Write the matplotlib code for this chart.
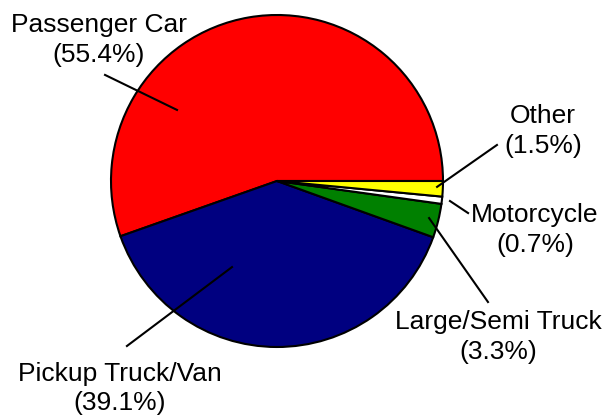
import matplotlib.pyplot as plt
import numpy as np

plt.rcParams['font.family'] = ['Liberation Sans', 'DejaVu Sans']

# vehicle type shares (percent)
categories = ["Passenger Car", "Pickup Truck/Van", "Large/Semi Truck", "Motorcycle", "Other"]
shares = [55.4, 39.1, 3.3, 0.7, 1.5]
colors = ["#FF0000", "#000080", "#008000", "#FFFFFF", "#FFFF00"]

# label layout: text centre, leader end outside, leader start inside (angle deg, radius)
text_pos = [(-1.072, 0.849), (-0.946, -1.250), (1.331, -0.940), (1.554, -0.295), (1.602, 0.301)]
leader_out = [(-1.036, 0.639), (-0.904, -0.994), (1.271, -0.729), (1.151, -0.193), (1.325, 0.217)]
leader_in = [(144.6, 0.739), (242.4, 0.585), (-13.7, 0.943), (-6.6, 1.049), (-2.1, 0.965)]

fig = plt.figure(figsize=(6.05, 4.16), dpi=100)
ax = fig.add_axes([0, 0, 1, 1])

ax.pie(shares, colors=colors, startangle=0, counterclock=True, radius=1,
       wedgeprops=dict(edgecolor='black', linewidth=1.5))

for name, val, tp, lo, li in zip(categories, shares, text_pos, leader_out, leader_in):
    ang = np.deg2rad(li[0])
    xin, yin = li[1] * np.cos(ang), li[1] * np.sin(ang)
    ax.plot([xin, lo[0]], [yin, lo[1]], color='black', linewidth=1.5)
    ax.text(tp[0], tp[1], f"{name}\n({val}%)", ha='center', va='center',
            fontsize=19, linespacing=1.3)

ax.set_xlim(-277 / 166, 328 / 166)
ax.set_ylim(-235 / 166, 181 / 166)
ax.set_aspect('equal')
ax.axis('off')

fig.savefig("out.png", dpi=100)
